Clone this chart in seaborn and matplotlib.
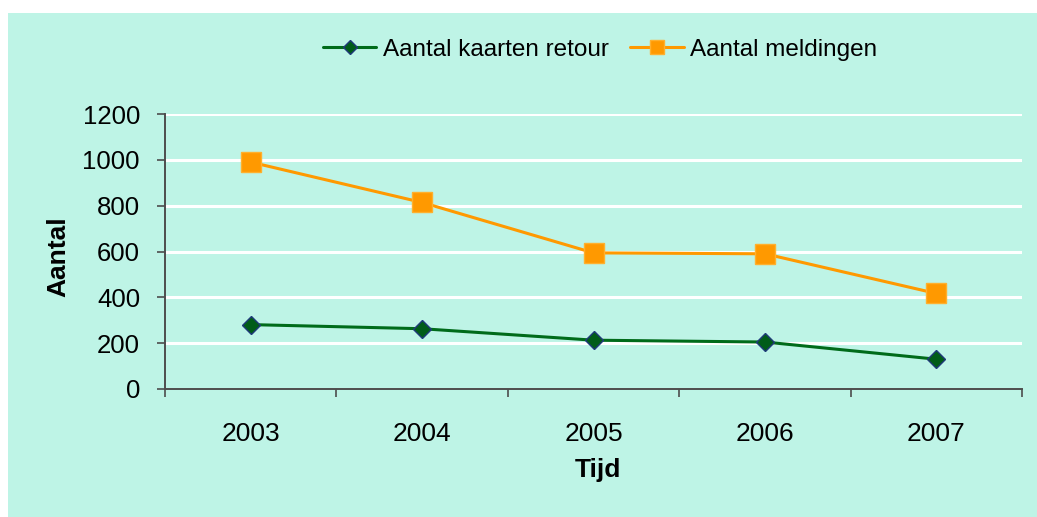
import numpy as np
import pandas as pd
import matplotlib.pyplot as plt
import matplotlib.patches as mpatches
from matplotlib.ticker import FixedLocator
import seaborn as sns

sns.set_theme(style="white")
plt.rcParams['font.family'] = ['Liberation Sans', 'DejaVu Sans']
plt.rcParams['text.color'] = 'black'
plt.rcParams['axes.labelcolor'] = 'black'

# data
years = [2003, 2004, 2005, 2006, 2007]
kaarten_retour = [281, 263, 213, 205, 130]
meldingen = [990, 814, 594, 590, 417]

mint = '#BEF4E6'
green = '#006B1A'
orange = '#FF9900'

df = pd.DataFrame({
    'Tijd': years * 2,
    'Aantal': kaarten_retour + meldingen,
    'reeks': ['Aantal kaarten retour'] * 5 + ['Aantal meldingen'] * 5,
})

fig = plt.figure(figsize=(10.37, 5.17), dpi=100)
fig.patch.set_facecolor('white')
# mint panel behind the chart
panel = mpatches.Rectangle((8 / 1037, 0), 1, 1 - 13 / 517, transform=fig.transFigure,
                           facecolor=mint, edgecolor='none', zorder=-10)
fig.add_artist(panel)

ax = fig.add_axes([165 / 1037, 1 - 389 / 517, 857 / 1037, 275 / 517])
ax.set_facecolor(mint)

sns.lineplot(data=df[df['reeks'] == 'Aantal kaarten retour'], x='Tijd', y='Aantal',
             color=green, lw=2.2, marker='D', markersize=9.5,
             markerfacecolor='#005C18', markeredgecolor='#1F3A7A', markeredgewidth=1,
             label='Aantal kaarten retour', ax=ax, zorder=3)
sns.lineplot(data=df[df['reeks'] == 'Aantal meldingen'], x='Tijd', y='Aantal',
             color=orange, lw=2.2, marker='s', markersize=14,
             markerfacecolor=orange, markeredgecolor='#FFB02E', markeredgewidth=1,
             label='Aantal meldingen', ax=ax, zorder=3)

ax.set_ylim(0, 1200)
ax.set_yticks(np.arange(0, 1201, 200))
ax.set_xlim(years[0] - 0.5, years[-1] + 0.5)
ax.set_xticks(years)
ax.set_xticklabels([str(y) for y in years])
ax.xaxis.set_minor_locator(FixedLocator(np.arange(years[0] - 0.5, years[-1] + 1, 1)))

ax.grid(axis='y', color='white', lw=2.2)
ax.set_axisbelow(True)
for s in ['top', 'right']:
    ax.spines[s].set_visible(False)
for s in ['left', 'bottom']:
    ax.spines[s].set_color('#4D4D4D')
    ax.spines[s].set_linewidth(1.4)

ax.tick_params(axis='y', which='major', left=True, direction='out', length=6,
               width=1.2, color='#4D4D4D', labelsize=18.5, pad=12, labelcolor='black')
ax.tick_params(axis='x', which='major', bottom=False, length=0, labelsize=19,
               pad=24, labelcolor='black')
ax.tick_params(axis='x', which='minor', bottom=True, direction='out', length=6,
               width=1.2, color='#4D4D4D')

ax.set_ylabel('Aantal', fontsize=19, fontweight='bold')
ax.set_xlabel('Tijd', fontsize=19, fontweight='bold')
ax.yaxis.set_label_coords(-0.11, 0.48)
ax.xaxis.set_label_coords(0.505, -0.25)

leg = ax.legend(loc='center', bbox_to_anchor=(600 / 1037, 1 - 50 / 517),
                bbox_transform=fig.transFigure, ncol=2, frameon=False, fontsize=17.5,
                handlelength=2.2, handletextpad=0.25, columnspacing=0.9)
leg_lines = leg.get_lines()
leg_lines[0].set_markersize(7)
leg_lines[1].set_markersize(10.5)

fig.savefig('out.png', dpi=100, facecolor=fig.get_facecolor())
